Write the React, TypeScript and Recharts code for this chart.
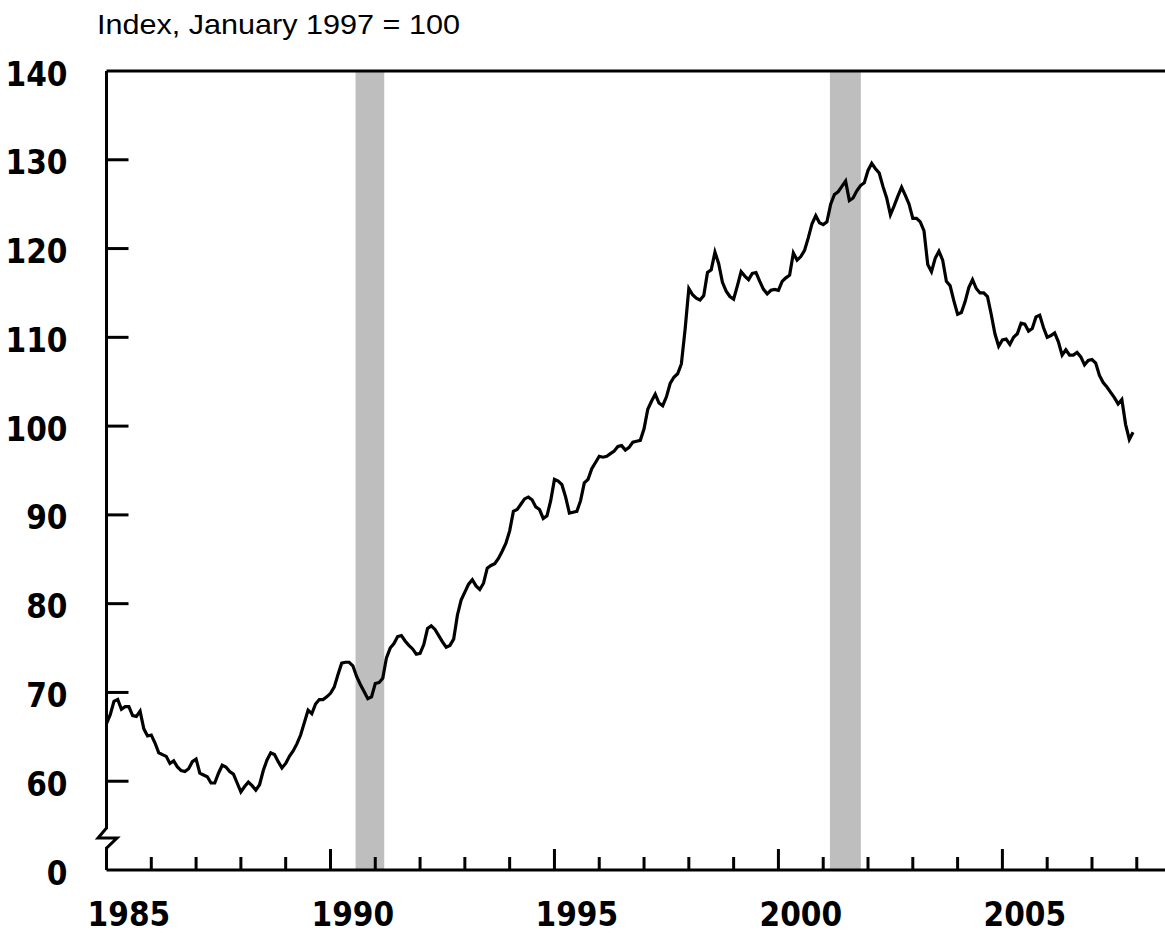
import { Line, LineChart, ReferenceArea, ReferenceLine, XAxis, YAxis } from 'recharts';

// Monthly index values, January of the first year through December of the last
const values1985to1989 = [
  66.5, 67.5, 69.0, 69.2, 68.1, 68.4, 68.4, 67.4, 67.3, 67.9, 65.9, 65.1,
  65.2, 64.3, 63.2, 63.0, 62.8, 62.0, 62.3, 61.6, 61.2, 61.1, 61.4, 62.2,
  62.5, 60.9, 60.7, 60.5, 59.8, 59.8, 60.9, 61.8, 61.6, 61.1, 60.8, 59.8,
  58.8, 59.4, 59.9, 59.5, 59.0, 59.6, 61.2, 62.4, 63.2, 63.0, 62.2, 61.5,
  62.0, 62.8, 63.4, 64.2, 65.2, 66.6, 68.0, 67.6, 68.7, 69.2, 69.2, 69.5,
];
const values1990to1994 = [
  69.9, 70.6, 72.0, 73.3, 73.4, 73.4, 73.0, 71.8, 70.9, 70.1, 69.3, 69.5,
  71.0, 71.1, 71.6, 73.9, 75.0, 75.5, 76.3, 76.4, 75.8, 75.3, 74.9, 74.3,
  74.4, 75.4, 77.2, 77.5, 77.1, 76.4, 75.7, 75.1, 75.3, 76.0, 78.7, 80.4,
  81.3, 82.2, 82.7, 82.0, 81.6, 82.3, 84.0, 84.3, 84.5, 85.1, 85.9, 86.8,
  88.2, 90.4, 90.6, 91.2, 91.8, 92.0, 91.7, 90.9, 90.6, 89.6, 89.9, 91.6,
];
const values1995to1999 = [
  94.0, 93.8, 93.4, 92.0, 90.2, 90.3, 90.4, 91.6, 93.6, 94.0, 95.2, 95.9,
  96.6, 96.5, 96.6, 96.9, 97.2, 97.7, 97.8, 97.3, 97.6, 98.2, 98.3, 98.4,
  99.7, 101.9, 102.8, 103.6, 102.6, 102.3, 103.3, 104.8, 105.5, 105.9, 107.0, 110.9,
  115.5, 114.8, 114.4, 114.2, 114.7, 117.3, 117.6, 119.6, 118.3, 116.2, 115.2, 114.6,
  114.3, 115.8, 117.4, 116.9, 116.5, 117.2, 117.3, 116.3, 115.4, 114.9, 115.3, 115.4,
];
const values2000to2004 = [
  115.3, 116.3, 116.7, 117.0, 119.5, 118.7, 119.1, 119.8, 121.2, 122.8, 123.7, 122.9,
  122.7, 123.0, 125.0, 126.1, 126.4, 127.0, 127.6, 125.4, 125.7, 126.5, 127.1, 127.4,
  128.8, 129.6, 129.0, 128.5, 127.0, 125.7, 123.8, 124.8, 125.9, 126.9, 126.0, 125.0,
  123.4, 123.4, 123.0, 122.0, 118.2, 117.4, 118.9, 119.7, 118.7, 116.3, 115.8, 114.1,
  112.6, 112.8, 114.0, 115.6, 116.5, 115.5, 115.0, 115.0, 114.6, 112.6, 110.4, 109.0,
];
const values2005to2007 = [
  109.7, 109.8, 109.2, 110.0, 110.4, 111.6, 111.5, 110.7, 111.0, 112.3, 112.5, 111.1,
  110.0, 110.2, 110.5, 109.5, 108.0, 108.6, 108.0, 108.0, 108.3, 107.8, 106.9, 107.4,
  107.5, 107.1, 105.7, 104.9, 104.4, 103.8, 103.2, 102.5, 103.0, 100.2, 98.5, 99.3,
];

const startYear = 1985;
const recessions = [
  [1990.56, 1991.2],
  [2001.15, 2001.84],
];
const yTicks = [50, 60, 70, 80, 90, 100, 110, 120, 130, 140];
const axisBreakAt = 53.6;
const tickYears = [1986, 1987, 1988, 1989, 1990, 1991, 1992, 1993, 1994, 1995, 1996,
  1997, 1998, 1999, 2000, 2001, 2002, 2003, 2004, 2005, 2006, 2007, 2008];
const labelYears = [1985, 1990, 1995, 2000, 2005];

const allValues = [
  ...values1985to1989,
  ...values1990to1994,
  ...values1995to1999,
  ...values2000to2004,
  ...values2005to2007,
];
const data = allValues.map((v, i) => ({ t: startYear + i / 12, v }));

// year tick marks at Jan 1, labels centred on the middle of the year
const xTicks = [...tickYears, ...labelYears.map((y) => y + 0.5)].sort((a, b) => a - b);

const tickFont = '"DejaVu Sans Condensed", "DejaVu Sans", sans-serif';

function XTick({ x, y, payload }: any) {
  const v = payload.value as number;
  if (Number.isInteger(v)) {
    const len = v % 5 === 0 ? 21 : 13;
    return <line x1={x} x2={x} y1={y} y2={y - len} stroke="#000" strokeWidth={3} />;
  }
  return (
    <text x={x} y={y + 44} textAnchor="middle" dominantBaseline="central"
      fontFamily={tickFont} fontWeight="bold" fontSize={33} fill="#000">
      {Math.floor(v)}
    </text>
  );
}

function YTick({ x, y, payload }: any) {
  const v = payload.value as number;
  if (v === axisBreakAt) {
    return (
      <g>
        <rect x={x - 3} y={y - 9} width={6} height={18} fill="#fff" />
        <polyline points={`${x},${y - 10} ${x - 8.5},${y} ${x + 10.5},${y} ${x},${y + 10}`}
          fill="none" stroke="#000" strokeWidth={3} />
      </g>
    );
  }
  return (
    <g>
      {v !== 50 && v !== 140 && (
        <line x1={x} x2={x + 22} y1={y} y2={y} stroke="#000" strokeWidth={3} />
      )}
      <text x={x - 39} y={y + 3} textAnchor="end" dominantBaseline="central"
        fontFamily={tickFont} fontWeight="bold" fontSize={33} fill="#000">
        {v === 50 ? '0' : v}
      </text>
    </g>
  );
}

export default function App() {
  return (
    <div style={{ position: 'absolute', left: 0, top: 0, width: 1165, height: 933, background: '#fff' }}>
      <LineChart width={1165} height={933} data={data} margin={{ top: 71, right: 0, bottom: 0, left: 0 }}>
        {recessions.map(([a, b]) => (
          <ReferenceArea key={a} x1={a} x2={b} y1={50} y2={140} fill="#bebebe" fillOpacity={1} stroke="none" />
        ))}
        <XAxis
          dataKey="t"
          type="number"
          domain={[1985, 2008.63]}
          ticks={xTicks}
          interval={0}
          height={63}
          tickSize={0}
          tickMargin={0}
          tickLine={false}
          axisLine={{ stroke: '#000', strokeWidth: 3 }}
          tick={<XTick />}
          allowDataOverflow
        />
        <YAxis
          type="number"
          domain={[50, 140]}
          ticks={[...yTicks, axisBreakAt].sort((a, b) => a - b)}
          interval={0}
          width={106.5}
          tickSize={0}
          tickMargin={0}
          tickLine={false}
          axisLine={{ stroke: '#000', strokeWidth: 3 }}
          tick={<YTick />}
          allowDataOverflow
        />
        <ReferenceLine y={140} stroke="#000" strokeWidth={3} />
        <Line
          type="linear"
          dataKey="v"
          stroke="#000"
          strokeWidth={3.2}
          dot={false}
          isAnimationActive={false}
        />
        <text x={97} y={34} fontFamily='"Liberation Sans", Arial, sans-serif' fontSize={28}
          textLength={363} lengthAdjust="spacingAndGlyphs" fill="#000">
          Index, January 1997 = 100
        </text>
      </LineChart>
    </div>
  );
}
